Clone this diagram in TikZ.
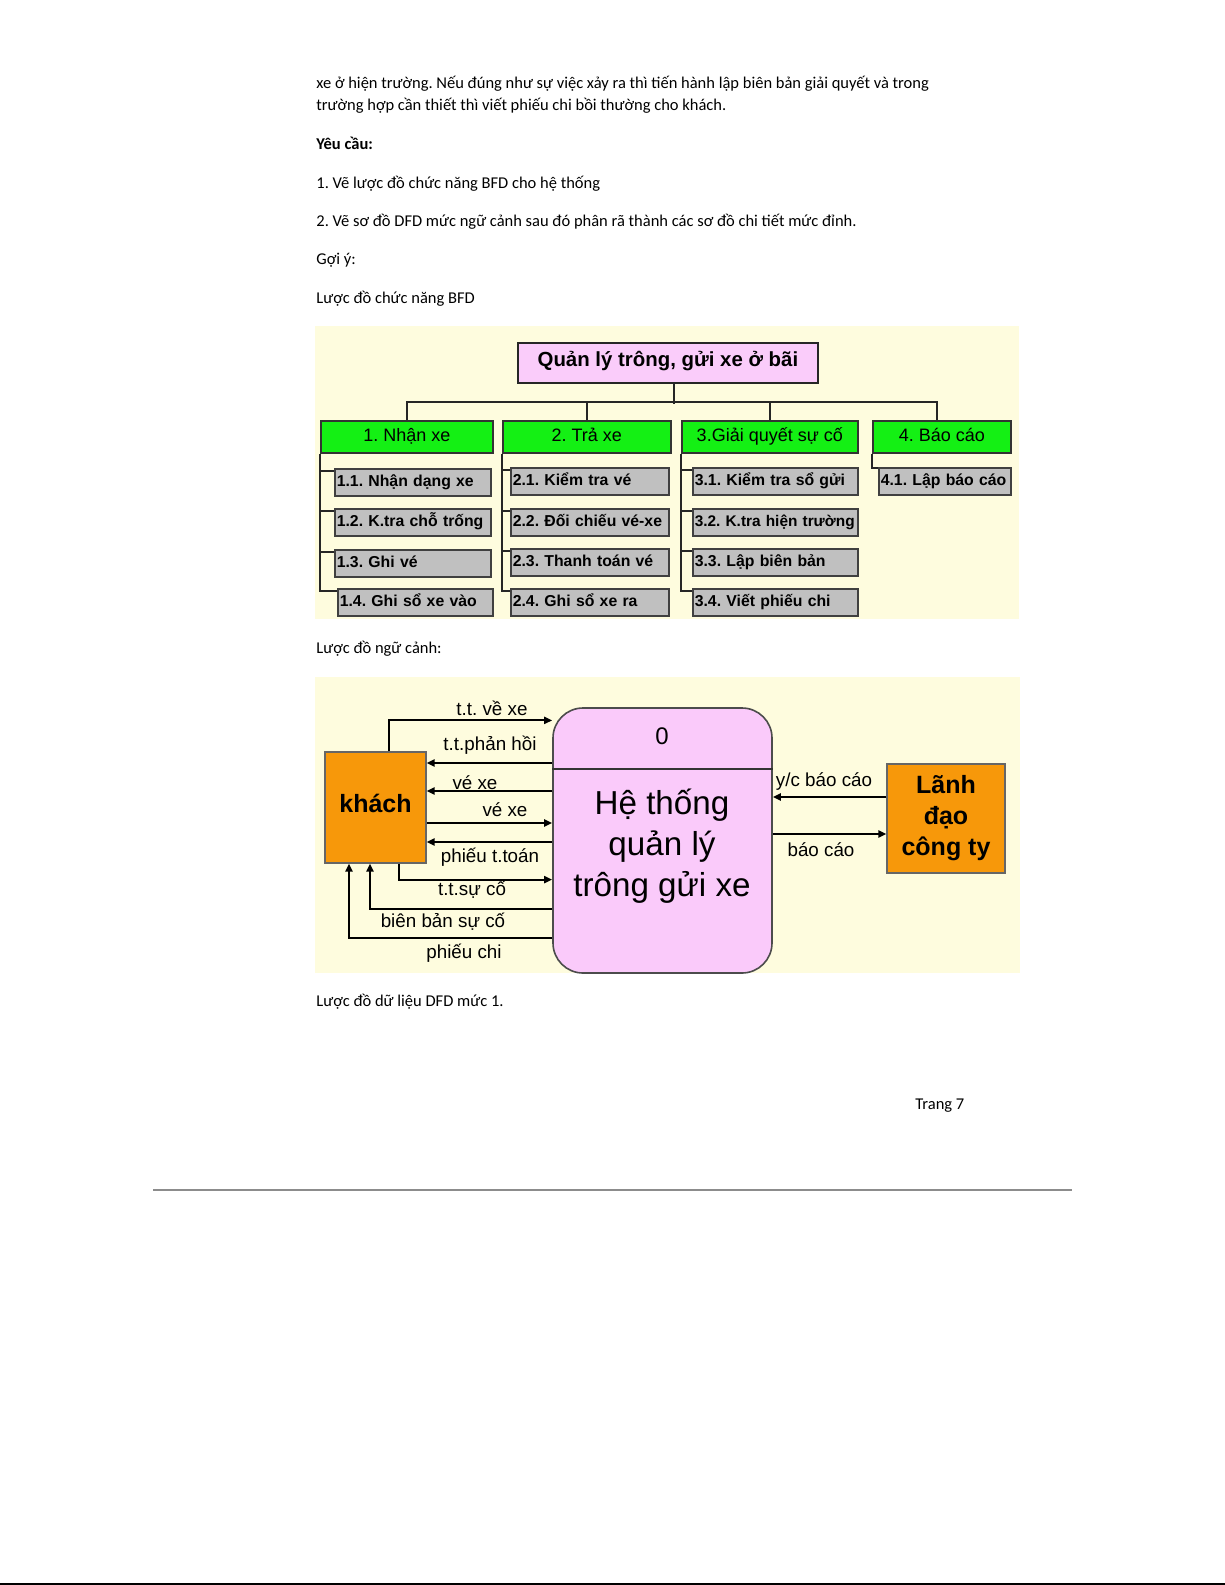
\documentclass[tikz,border=0pt]{standalone}
\usepackage{fontspec}
\setmainfont{Carlito}
\newfontfamily\arialf{Liberation Sans}
\usetikzlibrary{arrows.meta}
\definecolor{bfdbg}{HTML}{FEFCDE}
\definecolor{rootpink}{HTML}{FACCFA}
\definecolor{bfdgreen}{HTML}{14F014}
\definecolor{subgray}{HTML}{C0C0C0}
\definecolor{orangebox}{HTML}{F7980A}
\definecolor{syspink}{HTML}{FACAFA}
\definecolor{rulegray}{HTML}{8C8C8C}
\newcommand\bodyf{\fontsize{8.25}{9.5}\selectfont}
\tikzset{
  body/.style={anchor=base west, inner sep=0pt, font=\bodyf},
  rootbox/.style={draw=black!85, line width=0.9pt, fill=rootpink, anchor=north west,
    minimum width=150pt, minimum height=20pt, inner sep=0pt, text height=8pt, text depth=4pt,
    font=\arialf\bfseries\fontsize{10.2}{12}\selectfont},
  greenbox/.style={draw=black!80, line width=0.8pt, fill=bfdgreen, anchor=north west,
    minimum height=16pt, inner sep=0pt, text height=8.5pt, text depth=3.5pt,
    font=\arialf\fontsize{9}{10}\selectfont},
  subbox/.style={draw=black!75, line width=0.8pt, fill=subgray, anchor=north west,
    minimum height=13.5pt, inner xsep=1pt, inner ysep=0pt, align=left,
    text height=7pt, text depth=3pt,
    font=\arialf\bfseries\fontsize{7.9}{9.5}\selectfont},
  conn/.style={line width=1pt, draw=black!85},
  arr/.style={line width=1pt, draw=black, -{Triangle[length=4pt,width=3.5pt]}},
  lbl/.style={inner sep=0pt, font=\arialf\fontsize{9.4}{11}\selectfont},
  entity/.style={draw=black!60, line width=0.6pt, fill=orangebox, inner sep=0pt,
    align=center, font=\arialf\bfseries\fontsize{12.5}{15.5}\selectfont}
}
\begin{document}
\frenchspacing
\begin{tikzpicture}[x=0.5pt,y=-0.5pt]
\useasboundingbox (0,0) rectangle (1225,1585);
\fill[white] (0,0) rectangle (1225,1585);

% body text
\node[body] (t1) at (316,88) {xe ở hiện trường. Nếu đúng như sự việc xảy ra thì tiến hành lập biên bản giải quyết và trong};
\node[body] (t2) at (316,110) {trường hợp cần thiết thì viết phiếu chi bồi thường cho khách.};
\node[body, font=\bodyf\bfseries] (t3) at (316,149.5) {Yêu cầu:};
\node[body] (t4) at (316,188) {1. Vẽ lược đồ chức năng BFD cho hệ thống};
\node[body] (t5) at (316,226) {2. Vẽ sơ đồ DFD mức ngữ cảnh sau đó phân rã thành các sơ đồ chi tiết mức đỉnh.};
\node[body] (t6) at (316,264) {Gợi ý:};
\node[body] (t7) at (316,303) {Lược đồ chức năng BFD};
\node[body] (t8) at (316,653) {Lược đồ ngữ cảnh:};
\node[body] (t9) at (316,1006) {Lược đồ dữ liệu DFD mức 1.};
\node[body] (t10) at (915,1109) {Trang 7};

% page rules
\draw[rulegray, line width=1pt] (153,1190) -- (1072,1190);
\draw[black, line width=1pt] (0,1584) -- (1225,1584);

% ===== BFD =====
\fill[bfdbg] (315,326) rectangle (1019,619);
\node[rootbox] (root) at (517,342) {Quản lý trông, gửi xe ở bãi};

\node[greenbox, minimum width=86pt] (g1) at (320,420) {1. Nhận xe};
\node[greenbox, minimum width=84pt] (g2) at (502,420) {2. Trả xe};
\node[greenbox, minimum width=88pt] (g3) at (681,420) {3.Giải quyết sự cố};
\node[greenbox, minimum width=69pt] (g4) at (872,420) {4. Báo cáo};

\draw[conn] ([xshift=3pt]root.south) -- ++(0,20);
\draw[conn] (g1.north) -- ++(0,-18) -| ([xshift=-2.5pt]g4.north);
\draw[conn] (g2.north) -- ++(0,-18);
\draw[conn] (g3.north) -- ++(0,-18);

\node[subbox, text width=76pt] (c11) at (334,468) {\mbox{1.1. Nhận dạng xe}};
\node[subbox, text width=76pt] (c12) at (334,508) {\mbox{1.2. K.tra chỗ trống}};
\node[subbox, text width=76pt] (c13) at (334,549) {\mbox{1.3. Ghi vé}};
\node[subbox, text width=75.5pt] (c14) at (337,588) {\mbox{1.4. Ghi sổ xe vào}};

\node[subbox, text width=77pt] (c21) at (510,467) {\mbox{2.1. Kiểm tra vé}};
\node[subbox, text width=77pt] (c22) at (510,508) {\mbox{2.2. Đối chiếu vé-xe}};
\node[subbox, text width=77pt] (c23) at (510,548) {\mbox{2.3. Thanh toán vé}};
\node[subbox, text width=77pt] (c24) at (510,588) {\mbox{2.4. Ghi sổ xe ra}};

\node[subbox, text width=80.5pt] (c31) at (692,467) {\mbox{3.1. Kiểm tra sổ gửi}};
\node[subbox, text width=80.5pt, font=\arialf\bfseries\fontsize{7.7}{9.5}\selectfont] (c32) at (692,508) {\mbox{3.2. K.tra hiện trường}};
\node[subbox, text width=80.5pt] (c33) at (692,548) {\mbox{3.3. Lập biên bản}};
\node[subbox, text width=80.5pt] (c34) at (692,588) {\mbox{3.4. Viết phiếu chi}};

\node[subbox, text width=64pt] (c41) at (878,467) {\mbox{4.1. Lập báo cáo}};

\foreach \c in {c11,c12,c13,c14} \draw[conn] ([yshift=-1.5pt]\c.north west) -| (g1.south west);
\foreach \c in {c21,c22,c23,c24} \draw[conn] ([yshift=-1.5pt]\c.north west) -| (g2.south west);
\foreach \c in {c31,c32,c33,c34} \draw[conn] ([yshift=-1.5pt]\c.north west) -| (g3.south west);
\draw[conn] ([yshift=-0.5pt]c41.north west) -| (g4.south west);

% ===== DFD context =====
\fill[bfdbg] (315,677) rectangle (1020,973);
\node[draw=black!70, line width=0.8pt, fill=syspink, rounded corners=15pt,
  minimum width=109.5pt, minimum height=132.5pt, inner sep=0pt] (sys) at (662.5,840.5) {};
\coordinate (divy) at (0,769);
\draw[line width=0.8pt, black!80] (sys.west |- divy) -- (sys.east |- divy);
\node[inner sep=0pt, font=\arialf\fontsize{12}{14}\selectfont] (zero) at (662,736) {0};
\node[inner sep=0pt, align=center, font=\arialf\fontsize{16.6}{20.5}\selectfont] (systext) at (662,846) {Hệ thống\\quản lý\\trông gửi xe};

\node[entity, minimum width=50.5pt, minimum height=55.5pt, text height=9pt, text depth=4.4pt] (khach) at (375.5,807.5) {khách};
\node[entity, minimum width=59pt, minimum height=54.5pt] (lanh) at (946,818.5) {Lãnh\\đạo\\công ty};

% left flows
\path (khach.north) ++(13.5,-31) coordinate (k1);
\draw[arr] (k1 |- khach.north) -- (k1) -- (k1 -| sys.west);
\path (khach.east) ++(0,-44.5) coordinate (k2);
\draw[arr] (k2 -| sys.west) -- (k2);
\path (khach.east) ++(0,-16.5) coordinate (k3);
\draw[arr] (k3 -| sys.west) -- (k3);
\path (khach.east) ++(0,15.5) coordinate (k4);
\draw[arr] (k4) -- (k4 -| sys.west);
\path (khach.east) ++(0,34.5) coordinate (k5);
\draw[arr] (k5 -| sys.west) -- (k5);
\path (khach.south) ++(23.5,16) coordinate (k6);
\draw[arr] (k6 |- khach.south) -- (k6) -- (k6 -| sys.west);
\path (khach.south) ++(-5.5,45) coordinate (k7);
\draw[arr] (k7 -| sys.west) -- (k7) -- (k7 |- khach.south);
\path (khach.south) ++(-26.5,74) coordinate (k8);
\draw[arr] (k8 -| sys.west) -- (k8) -- (k8 |- khach.south);

% right flows
\path (lanh.west) ++(0,-21.5) coordinate (l1);
\draw[arr] (l1) -- (l1 -| sys.east);
\path (lanh.west) ++(0,15.5) coordinate (l2);
\draw[arr] (l2 -| sys.east) -- (l2);

% labels
\node[lbl] (f1) at (492,708.5) {t.t. về xe};
\node[lbl] (f2) at (490,745.5) {t.t.phản hồi};
\node[lbl] (f3) at (475,782.5) {vé xe};
\node[lbl] (f4) at (505,809.5) {vé xe};
\node[lbl] (f5) at (490,857) {phiếu t.toán};
\node[lbl] (f6) at (472,889.5) {t.t.sự cố};
\node[lbl] (f7) at (443,922) {biên bản sự cố};
\node[lbl] (f8) at (464,953) {phiếu chi};
\node[lbl] (f9) at (824,782) {y/c báo cáo};
\node[lbl] (f10) at (821,850) {báo cáo};
\end{tikzpicture}
\end{document}
